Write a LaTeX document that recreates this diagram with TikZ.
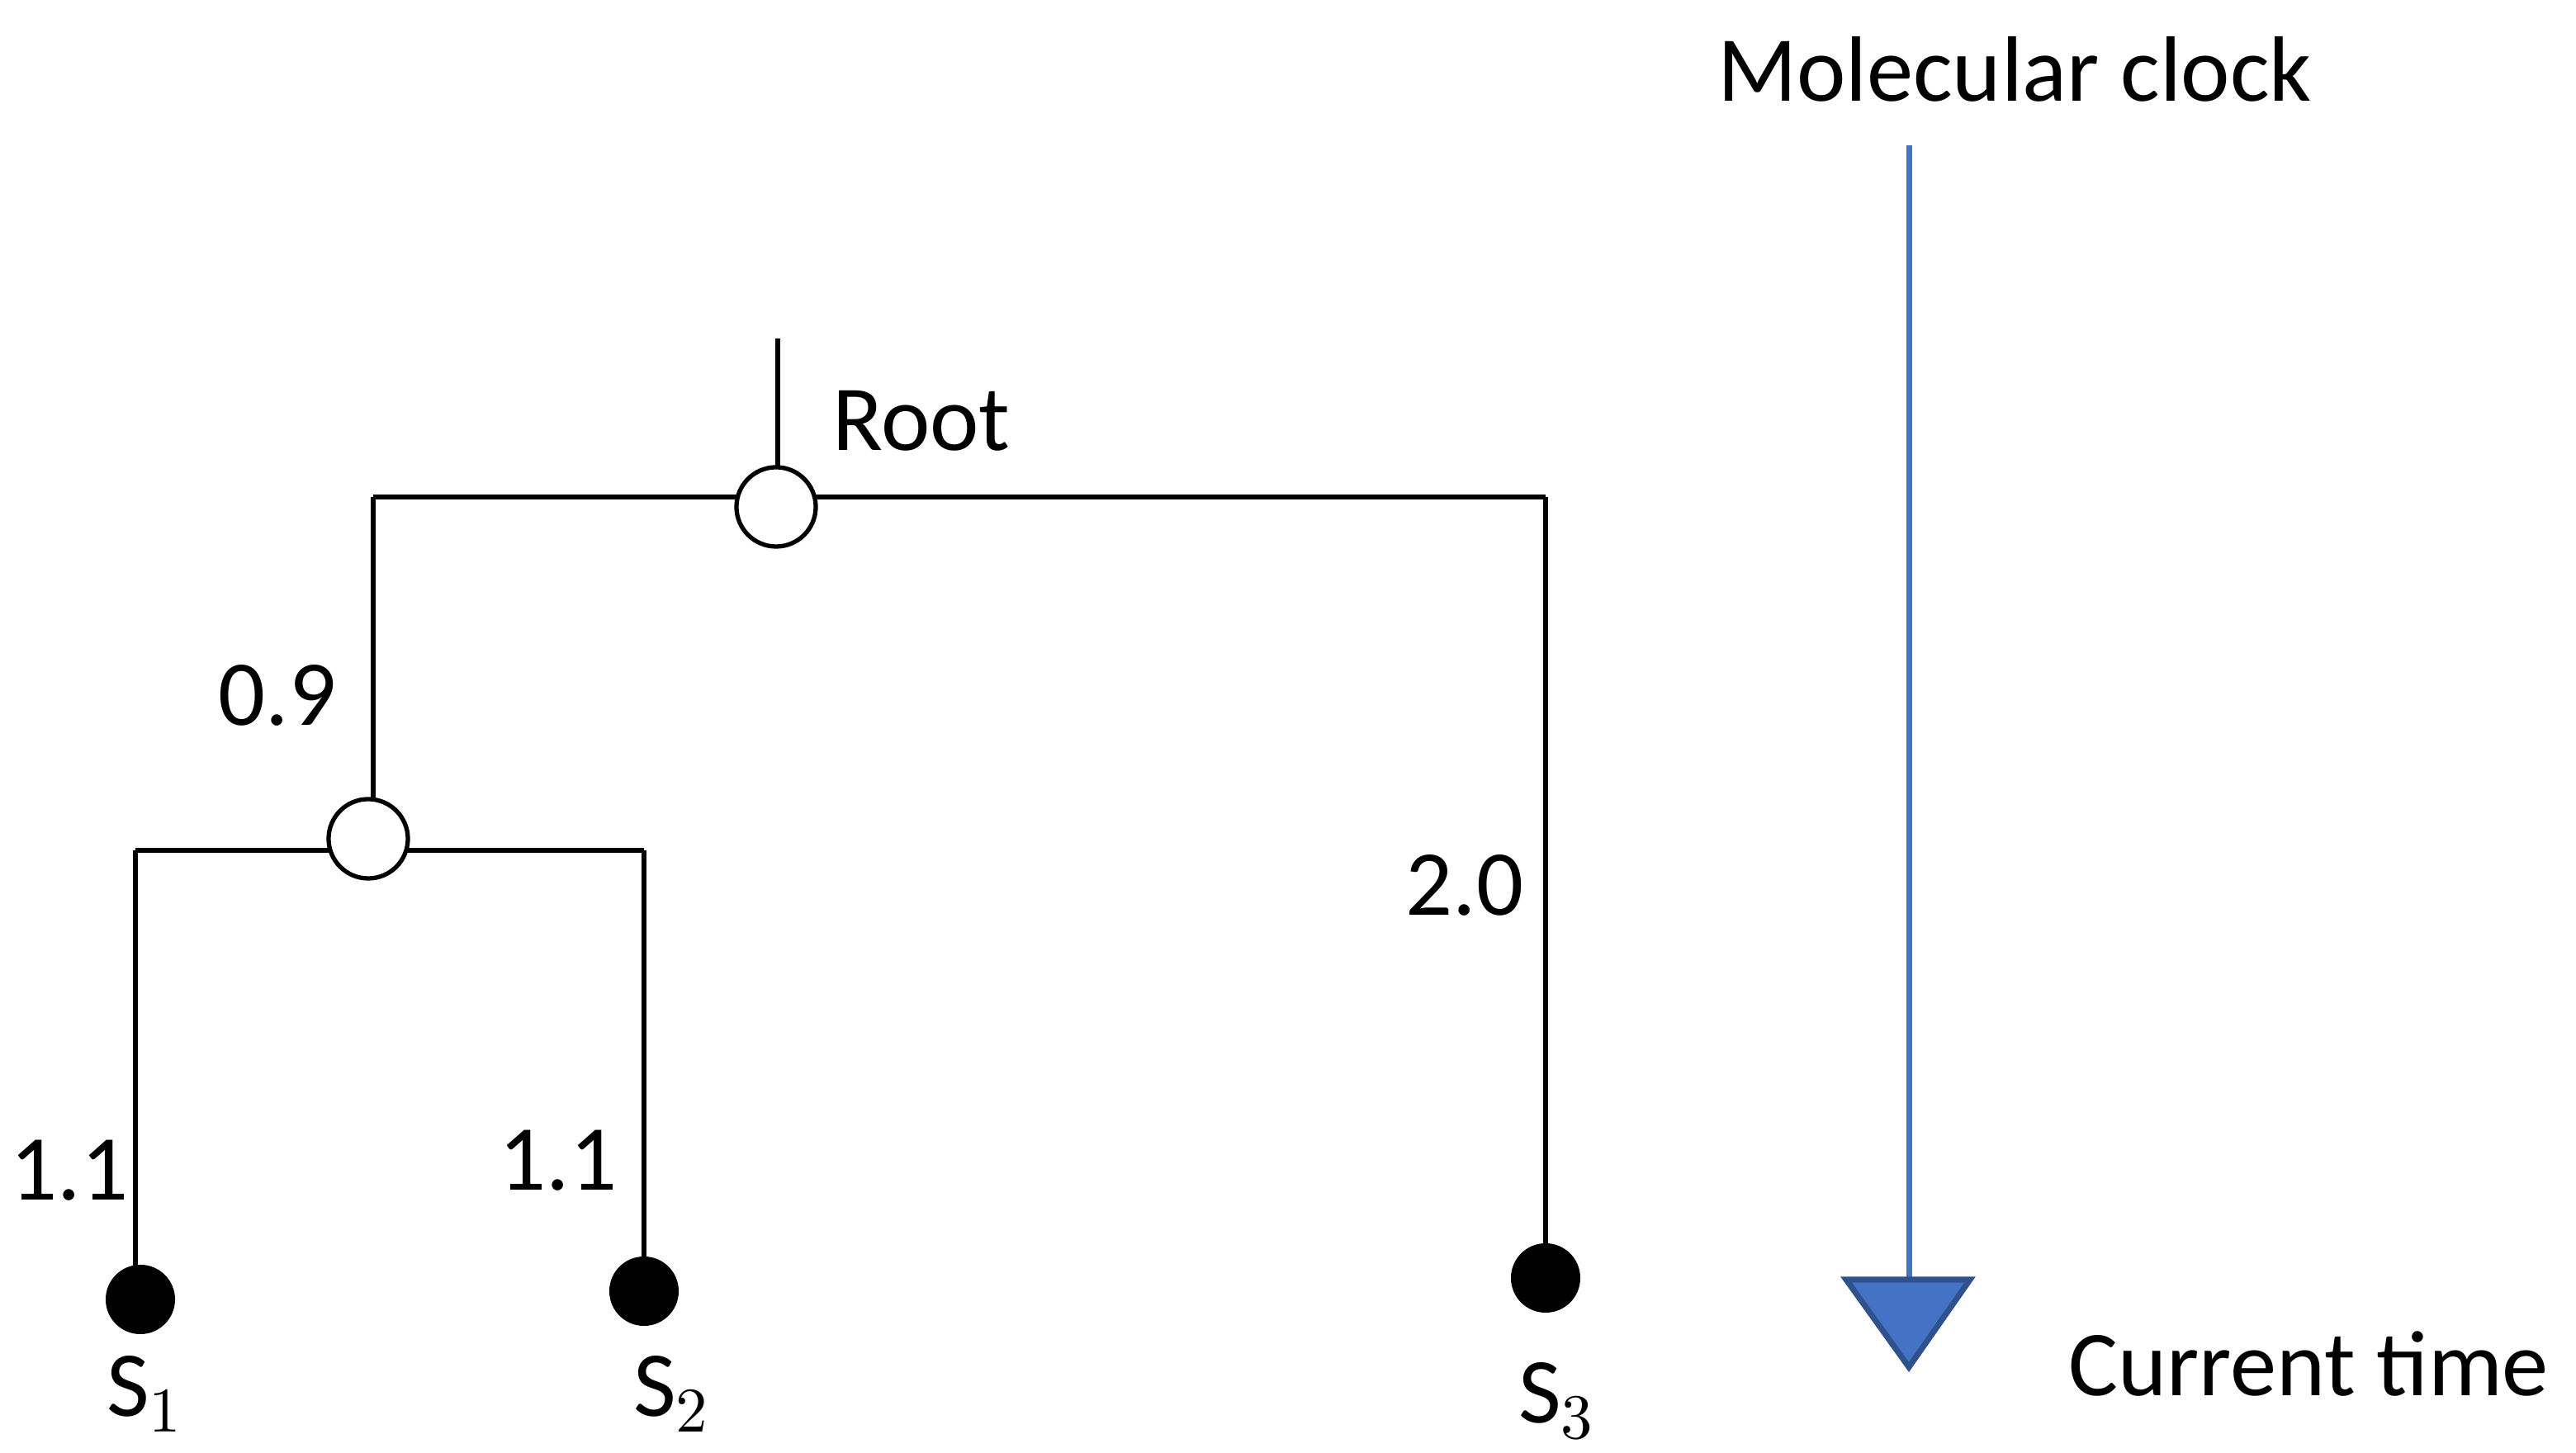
\documentclass[tikz,border=0pt]{standalone}
\usepackage{fontspec}
\setmainfont{Carlito}
\begin{document}
\begin{tikzpicture}[x=0.01cm,y=-0.01cm,
  br/.style={line width=0.75pt,black},
  inode/.style={circle,draw,line width=0.75pt,fill=white,minimum size=0.48cm,inner sep=0pt},
  leaf/.style={circle,fill=black,minimum size=0.42cm,inner sep=0pt},
  lbl/.style={font=\fontsize{16}{18}\selectfont,inner sep=0pt}]
\useasboundingbox (0,0) rectangle (1560,880);
\coordinate (rtop) at (471,205);
\coordinate (hl) at (226,301);
\coordinate (hr) at (936,301);
\coordinate (ll) at (82,515);
\coordinate (lr) at (390,515);
\draw[br] (rtop) -- (471,290);
\draw[br] (hl) -- (hr);
\draw[br] (hl) -- (226,500);
\draw[br] (hr) -- (936,774);
\draw[br] (ll) -- (lr);
\draw[br] (ll) -- (82,780);
\draw[br] (lr) -- (390,780);
\node[inode] (root) at (470,307) {};
\node[inode] (n1) at (223,508) {};
\node[leaf] (s1) at (85,787) {};
\node[leaf] (s2) at (390,782) {};
\node[leaf] (s3) at (936,774) {};
\node[lbl] (lroot) at (558,255) {Root};
\node[lbl] (l09) at (168,421) {0.9};
\node[lbl] (l11a) at (42,709) {1.1};
\node[lbl] (l11b) at (338,703) {1.1};
\node[lbl] (l20) at (887,536) {2.0};
\node[lbl,anchor=base] (ls1) at (88,858) {S$_1$};
\node[lbl,anchor=base] (ls2) at (407,858) {S$_2$};
\node[lbl,anchor=base] (ls3) at (943,862) {S$_3$};
\coordinate (atop) at (1156,88);
\coordinate (abot) at (1156,775);
\draw[line width=1pt,color={rgb,255:red,68;green,114;blue,196}] (atop) -- (abot);
\draw[line width=1pt,draw={rgb,255:red,47;green,82;blue,143},fill={rgb,255:red,68;green,114;blue,196}] (1118,775) -- (1193,775) -- (1156,828) -- cycle;
\node[lbl] (mc) at (1220,42) {Molecular clock};
\node[lbl] (ct) at (1398,826) {Current time};
\end{tikzpicture}
\end{document}
